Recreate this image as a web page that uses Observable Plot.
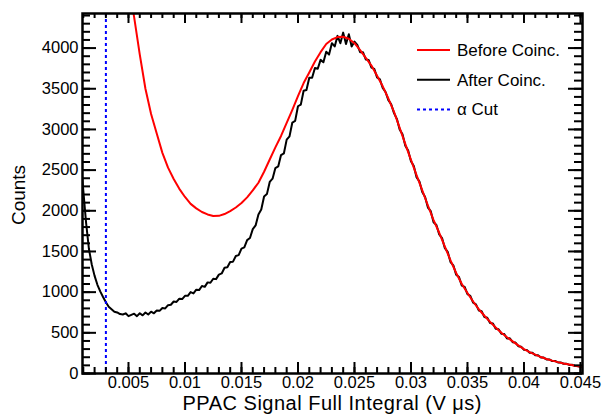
<!DOCTYPE html>
<html><head><meta charset="utf-8">
<script src="https://cdn.jsdelivr.net/npm/d3@7"></script>
<script src="https://cdn.jsdelivr.net/npm/@observablehq/plot@0.6"></script>
<style>
body{margin:0;background:#fff;}
#wrap{position:relative;width:603px;height:420px;font-family:"Liberation Sans",Arial,sans-serif;}
</style></head><body><div id="wrap"></div>
<script>
// ---- data ----
const beforeStart = 0.005, beforeStep = 0.0005;
const beforeCounts = [
  4800, 4380, 3920, 3500, 3190, 2950, 2712, 2530, 2390, 2270,
  2170, 2085, 2030, 1985, 1955, 1935, 1938, 1960, 1995, 2040,
  2095, 2165, 2250, 2345, 2480, 2630, 2780, 2920, 3080, 3240,
  3410, 3570, 3700, 3835, 3950, 4050, 4105, 4135, 4140, 4115,
  4060, 3975, 3880, 3785, 3660, 3530, 3380, 3215, 3020, 2820,
  2625, 2435, 2250, 2065, 1885, 1730, 1560, 1390, 1235, 1100,
  990, 885, 790, 710, 635, 565, 500, 445, 395, 345,
  300, 262, 232, 202, 178, 158, 140, 124, 110, 96,
  84, 74
];
const afterStart = 0.00075, afterStep = 0.00025;
const afterCounts = [
  2650, 2250, 1850, 1530, 1340, 1200, 1090, 1010, 940, 875,
  820, 790, 760, 750, 730, 725, 740, 705,
  720, 735, 705, 740, 715, 750, 725, 760, 740, 775,
  770, 805, 800, 840, 845, 885, 880, 920, 915, 955,
  955, 1000, 985, 1030, 1025, 1075, 1065, 1120, 1115, 1165,
  1160, 1215, 1230, 1300, 1305, 1370, 1375, 1445, 1455, 1535,
  1550, 1640, 1665, 1775, 1820, 1955, 2015, 2175, 2205, 2355,
  2395, 2525, 2545, 2685, 2705, 2875, 2915, 3085, 3105, 3285,
  3305, 3475, 3485, 3635, 3635, 3755, 3745, 3855, 3825, 3955,
  3920, 4060, 4020, 4150, 4060, 4190, 4050, 4170, 4020, 4080,
  4040, 3950, 3950, 3860, 3855, 3760, 3745, 3640, 3615, 3510,
  3460, 3360, 3310, 3200, 3130, 3000, 2940, 2800, 2740, 2610,
  2550, 2410, 2360, 2230, 2170, 2040, 1995, 1860, 1825, 1710,
  1665, 1540, 1495, 1370, 1330, 1215, 1185, 1080, 1065, 975,
  955, 870, 850, 775, 765, 695, 685, 620, 615, 550,
  545, 490, 485, 430, 432, 385, 380, 335, 330, 292,
  290, 255, 255, 225, 224, 196, 196, 172, 173, 153,
  154, 136, 136, 120, 121, 106, 107, 93, 93, 82, 80
];
const alphaCut = 0.003;
const xMajorTicks = [0.005, 0.01, 0.015, 0.02, 0.025, 0.03, 0.035, 0.04, 0.045];
const xMinorTicks = d3.range(1, 46).map(i => i / 1000);
const yMajorTicks = [0, 500, 1000, 1500, 2000, 2500, 3000, 3500, 4000];
const yMinorTicks = d3.range(0, 4401, 100);
const xTitle = "PPAC Signal Full Integral (V \u03bcs)";
const yTitle = "Counts";
const legendItems = [
  {label: "Before Coinc.", color: "#ff0000", dash: "none"},
  {label: "After Coinc.", color: "#000000", dash: "none"},
  {label: "\u03b1 Cut", color: "#0000ff", dash: "3,3"}
];

// ---- layout ----
const W = 603, H = 420, mL = 82, mR = 21, mT = 13, mB = 47;
const plotW = W - mL - mR, plotH = H - mT - mB;
const font = "'Liberation Sans', Arial, sans-serif";

const before = beforeCounts.map((c, i) => ({x: beforeStart + i * beforeStep, c}));
const after = afterCounts.map((c, i) => ({x: afterStart + i * afterStep, c}));

const chart = Plot.plot({
  width: W, height: H,
  marginLeft: mL, marginRight: mR, marginTop: mT, marginBottom: mB,
  style: {fontFamily: font, fontSize: "16.5px", color: "black", background: "white", overflow: "visible"},
  x: {domain: [0.00093, 0.04518], label: null},
  y: {domain: [0, 4425], label: null},
  marks: [
    Plot.line(after, {x: "x", y: "c", stroke: "#000000", strokeWidth: 2, clip: true}),
    Plot.line(before, {x: "x", y: "c", stroke: "#ff0000", strokeWidth: 2, clip: true}),
    Plot.ruleX([alphaCut], {stroke: "#0000ff", strokeWidth: 2, strokeDasharray: "3,3"}),
    // inward ticks: bottom
    Plot.tickX(xMajorTicks, {x: d => d, insetTop: plotH - 11, stroke: "black", strokeWidth: 2}),
    Plot.tickX(xMinorTicks, {x: d => d, insetTop: plotH - 6, stroke: "black", strokeWidth: 2}),
    // top
    Plot.tickX(xMajorTicks, {x: d => d, insetBottom: plotH - 10, stroke: "black", strokeWidth: 2}),
    Plot.tickX(xMinorTicks, {x: d => d, insetBottom: plotH - 5, stroke: "black", strokeWidth: 2}),
    // left
    Plot.tickY(yMajorTicks, {y: d => d, insetRight: plotW - 14, stroke: "black", strokeWidth: 2}),
    Plot.tickY(yMinorTicks, {y: d => d, insetRight: plotW - 8, stroke: "black", strokeWidth: 2}),
    // right
    Plot.tickY(yMajorTicks, {y: d => d, insetLeft: plotW - 14, stroke: "black", strokeWidth: 2}),
    Plot.tickY(yMinorTicks, {y: d => d, insetLeft: plotW - 8, stroke: "black", strokeWidth: 2}),
    Plot.axisX(xMajorTicks, {anchor: "bottom", tickSize: 0, tickPadding: 3, label: null, tickFormat: d3.format("~g")}),
    Plot.axisY(yMajorTicks, {anchor: "left", tickSize: 0, tickPadding: 4, label: null, tickFormat: d => String(d)}),
    Plot.frame({stroke: "black", strokeWidth: 2.5})
  ]
});

const wrap = document.getElementById("wrap");
wrap.appendChild(chart);

// ---- titles and legend (overlay) ----
const ov = d3.select(wrap).append("svg")
  .attr("width", W).attr("height", H)
  .style("position", "absolute").style("left", "0px").style("top", "0px")
  .style("font-family", font);

ov.append("text").attr("x", 482).attr("y", 410).attr("text-anchor", "end")
  .attr("font-size", 20).attr("letter-spacing", "0.5px").attr("fill", "black").text(xTitle);
ov.append("text").attr("transform", "translate(25,195) rotate(-90)").attr("text-anchor", "middle")
  .attr("font-size", 19).attr("fill", "black").text(yTitle);

const lg = ov.selectAll("g.lg").data(legendItems).join("g")
  .attr("transform", (d, i) => `translate(417,${50 + i * 29.7})`);
lg.append("line").attr("x1", 0).attr("x2", 33).attr("y1", 0).attr("y2", 0)
  .attr("stroke", d => d.color).attr("stroke-width", 2)
  .attr("stroke-dasharray", d => d.dash);
lg.append("text").attr("x", 40).attr("y", 0).attr("dy", "0.35em")
  .attr("font-size", 17).attr("fill", "black").text(d => d.label);
</script>
</body></html>
